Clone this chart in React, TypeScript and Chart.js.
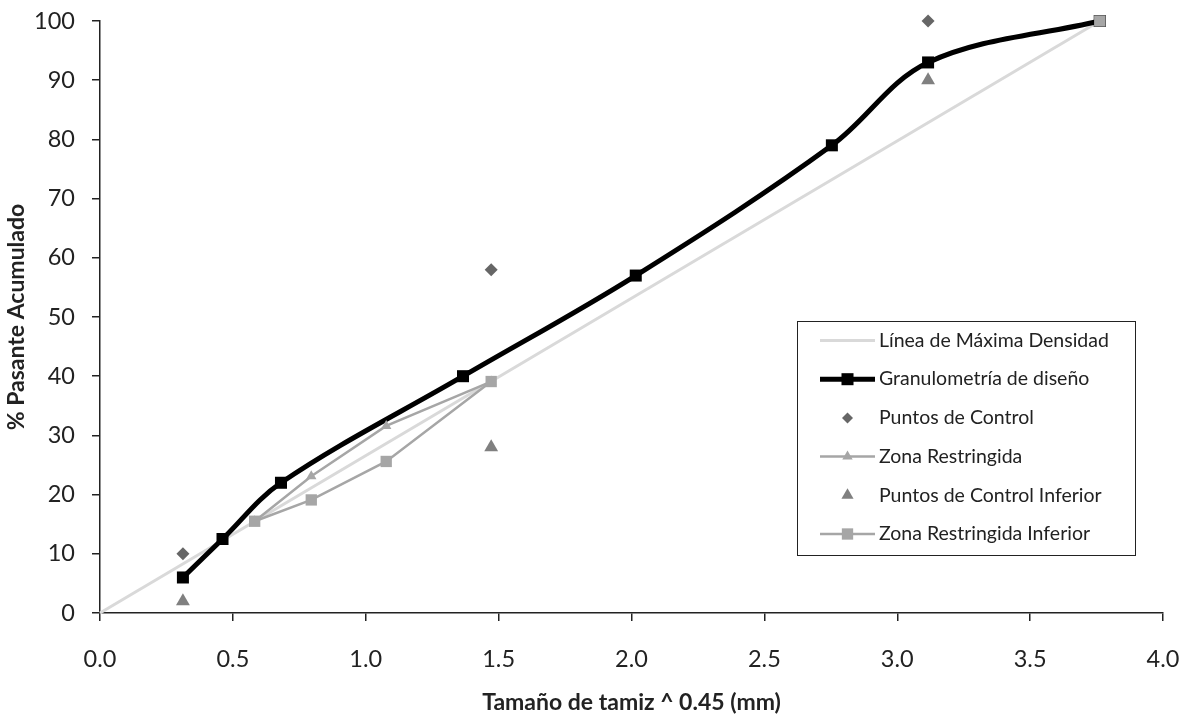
import React, { useEffect, useRef } from "react";
import { Chart, registerables } from "chart.js";

Chart.register(...registerables);

// ---- data ----
const maxDensityX = [0, 3.762];
const maxDensityY = [0, 100];

const gradX = [0.312, 0.461, 0.681, 1.366, 2.016, 2.754, 3.116, 3.762];
const gradY = [6, 12.5, 22, 40, 57, 79, 93, 100];

const controlX = [0.312, 1.472, 3.116];
const controlY = [10, 58, 100];

const zonaX = [0.582, 0.795, 1.077, 1.472];
const zonaY = [15.5, 23.1, 31.6, 39.1];

const controlInfX = [0.312, 1.472, 3.116];
const controlInfY = [2, 28, 90];

const zonaInfX = [0.582, 0.795, 1.077, 1.472, 3.762];
const zonaInfY = [15.5, 19.1, 25.6, 39.1, 100];

const xTicks = [0, 0.5, 1, 1.5, 2, 2.5, 3, 3.5, 4];
const yTicks = [0, 10, 20, 30, 40, 50, 60, 70, 80, 90, 100];

const labels = [
  "Línea de Máxima Densidad",
  "Granulometría de diseño",
  "Puntos de Control",
  "Zona Restringida",
  "Puntos de Control Inferior",
  "Zona Restringida Inferior",
];

const FONT = "Lato";
const C_MAX = "#d9d9d9";
const C_GRAN = "#000000";
const C_CTRL = "#666666";
const C_ZONA = "#a6a6a6";
const C_CTRL_INF = "#808080";

const pts = (xs: number[], ys: number[]) => xs.map((x, i) => ({ x, y: ys[i] }));

function drawMarker(ctx: CanvasRenderingContext2D, style: string, x: number, y: number, r: number, color: string) {
  ctx.save();
  ctx.fillStyle = color;
  ctx.beginPath();
  if (style === "rect") {
    const s = Math.SQRT1_2 * r;
    ctx.rect(x - s, y - s, 2 * s, 2 * s);
  } else if (style === "rectRot") {
    ctx.moveTo(x, y - r);
    ctx.lineTo(x + r, y);
    ctx.lineTo(x, y + r);
    ctx.lineTo(x - r, y);
    ctx.closePath();
  } else if (style === "triangle") {
    ctx.moveTo(x, y - r);
    ctx.lineTo(x + r * Math.sin(Math.PI / 3), y + r / 2);
    ctx.lineTo(x - r * Math.sin(Math.PI / 3), y + r / 2);
    ctx.closePath();
  }
  ctx.fill();
  ctx.restore();
}

const legendPlugin = {
  id: "insideLegend",
  afterDraw(chart: any) {
    const ctx: CanvasRenderingContext2D = chart.ctx;
    const ca = chart.chartArea;
    const left = ca.left + 697;
    const top = ca.top + 300;
    const w = 338;
    const h = 234;
    ctx.save();
    ctx.fillStyle = "#ffffff";
    ctx.fillRect(left, top, w, h);
    ctx.strokeStyle = "#222222";
    ctx.lineWidth = 1;
    ctx.strokeRect(left + 0.5, top + 0.5, w, h);

    const items = [
      { line: C_MAX, lw: 3, marker: "", mc: "", mr: 0 },
      { line: C_GRAN, lw: 5, marker: "rect", mc: C_GRAN, mr: 8.5 },
      { line: "", lw: 0, marker: "rectRot", mc: C_CTRL, mr: 5.5 },
      { line: C_ZONA, lw: 2.5, marker: "triangle", mc: C_ZONA, mr: 6 },
      { line: "", lw: 0, marker: "triangle", mc: C_CTRL_INF, mr: 7 },
      { line: C_ZONA, lw: 2.5, marker: "rect", mc: C_ZONA, mr: 8 },
    ];
    const x0 = left + 23;
    const x1 = left + 78;
    const xm = (x0 + x1) / 2;
    items.forEach((it, i) => {
      const y = top + 19.5 + i * 38.7;
      if (it.line) {
        ctx.strokeStyle = it.line;
        ctx.lineWidth = it.lw;
        ctx.beginPath();
        ctx.moveTo(x0, y);
        ctx.lineTo(x1, y);
        ctx.stroke();
      }
      if (it.marker) drawMarker(ctx, it.marker, xm, y, it.mr, it.mc);
      ctx.fillStyle = "#222222";
      ctx.font = `19.5px ${FONT}`;
      ctx.textBaseline = "middle";
      ctx.textAlign = "left";
      ctx.fillText(labels[i], left + 82, y);
    });
    ctx.restore();
  },
};

const zeroPad = (s: any) => {
  s.paddingTop = 0;
  s.paddingBottom = 0;
  s.paddingLeft = 0;
  s.paddingRight = 0;
};

export default function App() {
  const ref = useRef<HTMLCanvasElement>(null);
  useEffect(() => {
    if (!ref.current) return;
    const chart = new Chart(ref.current, {
      type: "scatter",
      data: {
        datasets: [
          {
            label: labels[0],
            data: pts(maxDensityX, maxDensityY),
            showLine: true,
            borderColor: C_MAX,
            borderWidth: 3,
            pointRadius: 0,
            clip: false,
            order: 6,
          },
          {
            label: labels[1],
            data: pts(gradX, gradY),
            showLine: true,
            borderColor: C_GRAN,
            borderWidth: 5,
            tension: 0.35,
            pointStyle: "rect",
            pointRadius: 8.5,
            pointBackgroundColor: C_GRAN,
            pointBorderWidth: 0,
            clip: false,
            order: 5,
          },
          {
            label: labels[2],
            data: pts(controlX, controlY),
            showLine: false,
            pointStyle: "rectRot",
            pointRadius: 6.5,
            pointBackgroundColor: C_CTRL,
            pointBorderWidth: 0,
            clip: false,
            order: 4,
          },
          {
            label: labels[3],
            data: pts(zonaX, zonaY),
            showLine: true,
            borderColor: C_ZONA,
            borderWidth: 2.5,
            pointStyle: "triangle",
            pointRadius: 6,
            pointBackgroundColor: C_ZONA,
            pointBorderWidth: 0,
            clip: false,
            order: 3,
          },
          {
            label: labels[4],
            data: pts(controlInfX, controlInfY),
            showLine: false,
            pointStyle: "triangle",
            pointRadius: 8,
            pointBackgroundColor: C_CTRL_INF,
            pointBorderWidth: 0,
            clip: false,
            order: 2,
          },
          {
            label: labels[5],
            data: pts(zonaInfX, zonaInfY),
            showLine: true,
            borderColor: C_ZONA,
            borderWidth: 2.5,
            segment: {
              borderColor: (c: any) => (c.p1DataIndex === zonaInfX.length - 1 ? "rgba(0,0,0,0)" : C_ZONA),
            },
            pointStyle: "rect",
            pointRadius: 8,
            pointBackgroundColor: C_ZONA,
            pointBorderWidth: 0,
            clip: false,
            order: 1,
          },
        ] as any,
      },
      options: {
        animation: false,
        responsive: false,
        layout: { padding: { top: 21, right: 26, left: 0, bottom: 0 } },
        plugins: { legend: { display: false }, tooltip: { enabled: false } },
        scales: {
          x: {
            type: "linear",
            min: 0,
            max: 4,
            afterBuildTicks: (s: any) => {
              s.ticks = xTicks.map((v) => ({ value: v }));
            },
            afterFit: (s: any) => {
              s.height = 102;
              zeroPad(s);
            },
            grid: { drawOnChartArea: false, drawTicks: true, tickLength: 8, color: "#222", lineWidth: 1.5 },
            border: { display: true, color: "#222", width: 1.5 },
            ticks: {
              padding: 24,
              color: "#222",
              font: { family: FONT, size: 23.5 },
              callback: (v: any) => Number(v).toFixed(1),
            },
            title: {
              display: true,
              text: "Tamaño de tamiz ^ 0.45 (mm)",
              color: "#222",
              font: { family: FONT, size: 23, weight: "bold" },
              padding: { top: 0, bottom: -1 },
            },
          },
          y: {
            type: "linear",
            min: 0,
            max: 100,
            afterBuildTicks: (s: any) => {
              s.ticks = yTicks.map((v) => ({ value: v }));
            },
            afterFit: (s: any) => {
              s.width = 100;
              zeroPad(s);
            },
            grid: { drawOnChartArea: false, drawTicks: true, tickLength: 8, color: "#222", lineWidth: 1.5 },
            border: { display: true, color: "#222", width: 1.5 },
            ticks: {
              padding: 17,
              color: "#222",
              font: { family: FONT, size: 23.5 },
            },
            title: {
              display: true,
              text: "% Pasante Acumulado",
              color: "#222",
              font: { family: FONT, size: 23, weight: "bold" },
              padding: { top: 3, bottom: 0 },
            },
          },
        },
      },
      plugins: [legendPlugin],
    } as any);
    return () => chart.destroy();
  }, []);
  return (
    <div style={{ position: "absolute", left: 0, top: 0, width: 1189, height: 715, background: "#fff" }}>
      <canvas ref={ref} width={1189} height={715} style={{ display: "block" }} />
    </div>
  );
}
